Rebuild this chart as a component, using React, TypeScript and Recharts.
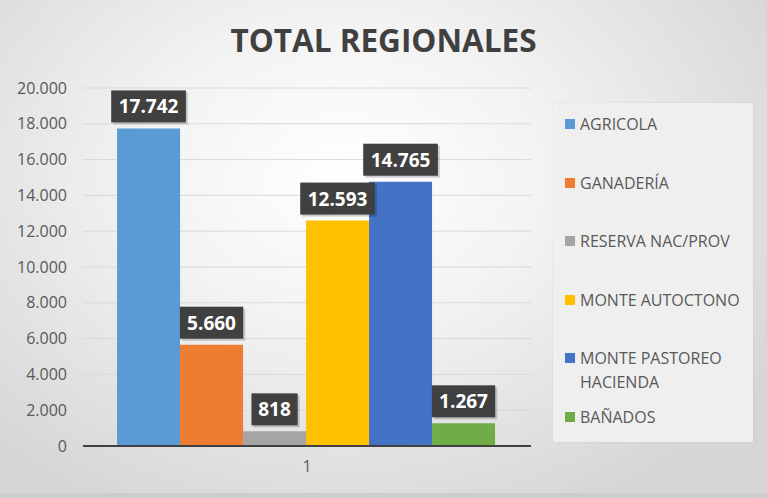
import React from "react";
import { BarChart, Bar, XAxis, YAxis, CartesianGrid, LabelList } from "recharts";

const categories = ["1"];
const seriesNames = [
  "AGRICOLA",
  "GANADERÍA",
  "RESERVA NAC/PROV",
  "MONTE AUTOCTONO",
  "MONTE PASTOREO HACIENDA",
  "BAÑADOS",
];
const seriesKeys = ["agricola", "ganaderia", "reserva", "monteAutoctono", "montePastoreo", "banados"];
const seriesValues = [17742, 5660, 818, 12593, 14765, 1267];
const seriesColors = ["#5B9BD5", "#ED7D31", "#A5A5A5", "#FFC000", "#4472C4", "#70AD47"];
const yTicks = [0, 2000, 4000, 6000, 8000, 10000, 12000, 14000, 16000, 18000, 20000];
const legendLines = [["AGRICOLA"], ["GANADERÍA"], ["RESERVA NAC/PROV"], ["MONTE AUTOCTONO"], ["MONTE PASTOREO", "HACIENDA"], ["BAÑADOS"]];

const data = categories.map((c) => {
  const row: any = { name: c };
  seriesKeys.forEach((k, i) => (row[k] = seriesValues[i]));
  return row;
});

const fmt = (v: number) => String(v).replace(/\B(?=(\d{3})+(?!\d))/g, ".");

const FONT = "'Open Sans', sans-serif";

const DarkLabel = (props: any) => {
  const { x, y, width, value } = props;
  const s = fmt(value);
  const fs = 19;
  let tw = 0;
  for (const ch of s) tw += ch === "." ? fs * 0.3 : fs * 0.6;
  const bw = tw + 12;
  const bh = 32;
  const cx = x + width / 2;
  const by = y - 6 - bh;
  return (
    <g>
      <rect x={cx - bw / 2 + 2} y={by + 2} width={bw} height={bh} fill="#000" opacity={0.18} />
      <rect x={cx - bw / 2} y={by} width={bw} height={bh} fill="#404040" />
      <text
        x={cx}
        y={by + bh / 2 + 7}
        textAnchor="middle"
        fill="#ffffff"
        fontFamily={FONT}
        fontWeight={700}
        fontSize={fs}
      >
        {s}
      </text>
    </g>
  );
};

const legendTops = [112, 171, 229, 288, 346, 405];

export default function App() {
  return (
    <div
      style={{
        position: "absolute",
        left: 0,
        top: 0,
        width: 767,
        height: 498,
        overflow: "hidden",
        background:
          "radial-gradient(ellipse 65% 75% at 45% 35%, #ffffff 0%, #f3f3f3 40%, #d6d6d6 100%)",
        fontFamily: FONT,
      }}
    >
      <div
        style={{
          position: "absolute",
          left: 0,
          top: 493,
          width: 767,
          height: 5,
          background: "#cdcdcd",
        }}
      />
      <div
        style={{
          position: "absolute",
          left: 0,
          width: 767,
          top: 15,
          textAlign: "center",
          fontFamily: FONT,
          fontWeight: 700,
          fontSize: 31.5,
          color: "#404040",
          lineHeight: "50px",
        }}
      >
        TOTAL REGIONALES
      </div>
      <BarChart
        width={767}
        height={498}
        data={data}
        margin={{ top: 88, right: 236, bottom: 22, left: 0 }}
        barCategoryGap="7.6%"
        barGap={0}
        style={{ position: "absolute", left: 0, top: 0 }}
      >
        <CartesianGrid vertical={false} stroke="#d9d9d9" strokeWidth={1} />
        <XAxis
          dataKey="name"
          height={30}
          axisLine={{ stroke: "#404040", strokeWidth: 2 }}
          tickLine={false}
          tickSize={6}
          tickMargin={9}
          tick={{ fill: "#595959", fontSize: 16, fontFamily: FONT }}
        />
        <YAxis
          width={83}
          domain={[0, 20000]}
          ticks={yTicks}
          interval={0}
          axisLine={false}
          tickLine={false}
          tickSize={6}
          tickMargin={10}
          tickFormatter={(v: number) => fmt(v)}
          tick={{ fill: "#595959", fontSize: 16, fontFamily: FONT }}
        />
        {seriesKeys.map((k, i) => (
          <Bar key={k} dataKey={k} name={seriesNames[i]} fill={seriesColors[i]} isAnimationActive={false}>
            <LabelList dataKey={k} content={DarkLabel} />
          </Bar>
        ))}
      </BarChart>
      <div
        style={{
          position: "absolute",
          left: 553,
          top: 103,
          width: 200,
          height: 339,
          background: "#efefef",
          boxShadow: "0 0 2px rgba(0,0,0,0.08)",
        }}
      >
        {legendLines.map((lines, i) => (
          <div
            key={i}
            style={{
              position: "absolute",
              left: 12,
              top: legendTops[i] - 103,
              display: "flex",
              alignItems: "flex-start",
            }}
          >
            <div
              style={{
                width: 10,
                height: 10,
                background: seriesColors[i],
                marginTop: 7,
                marginRight: 5,
              }}
            />
            <div style={{ fontSize: 16, color: "#595959", lineHeight: "24px", fontFamily: FONT }}>
              {lines.map((l, j) => (
                <div key={j} style={{ whiteSpace: "nowrap" }}>
                  {l}
                </div>
              ))}
            </div>
          </div>
        ))}
      </div>
    </div>
  );
}
